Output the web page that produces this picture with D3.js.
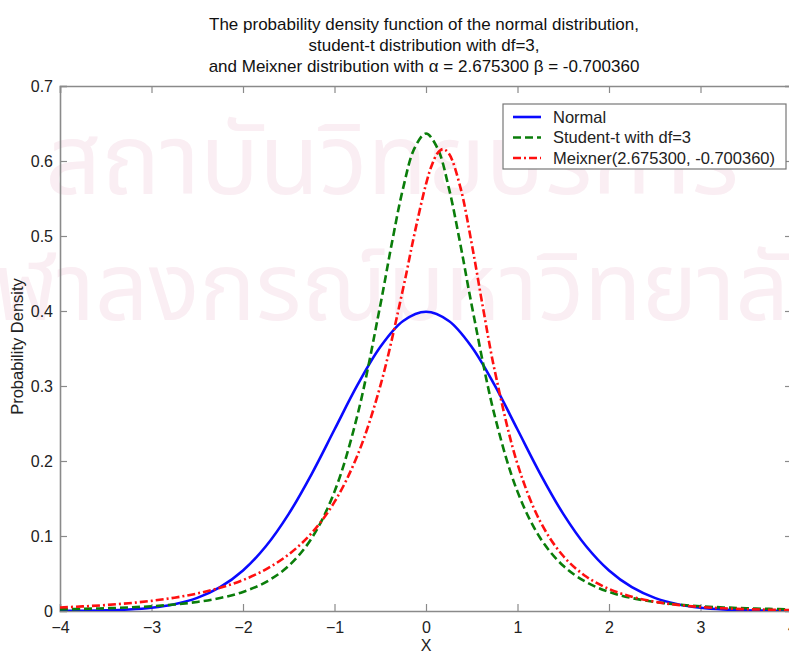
<!DOCTYPE html>
<html><head><meta charset="utf-8">
<script src="https://cdn.jsdelivr.net/npm/d3@7"></script>
<style>body{margin:0;background:#fff}svg{display:block}</style>
</head><body>
<svg id="chart" width="789" height="653"></svg>
<script>
// ---- data ----
const titleLines = [
  "The probability density function of the normal distribution,",
  "student-t distribution with df=3,",
  "and Meixner distribution with \u03b1 = 2.675300 \u03b2 = -0.700360"
];
const xLabel = "X";
const yLabel = "Probability Density";
const xTicks = [-4, -3, -2, -1, 0, 1, 2, 3, 4];
const yTicks = [0, 0.1, 0.2, 0.3, 0.4, 0.5, 0.6, 0.7];
const yTickLabels = ["0", "0.1", "0.2", "0.3", "0.4", "0.5", "0.6", "0.7"];
const seriesNames = ["Normal", "Student-t with df=3", "Meixner(2.675300, -0.700360)"];
const watermarkLines = ["สถาบันวิทยบริการ", "จุฬาลงกรณ์มหาวิทยาลัย"];

const normalX = [-4,-3.75,-3.5,-3.25,-3,-2.75,-2.5,-2.25,-2,-1.75,-1.5,-1.25,-1,-0.75,-0.5,-0.25,0,
                 0.25,0.5,0.75,1,1.25,1.5,1.75,2,2.25,2.5,2.75,3,3.25,3.5,3.75,4];
const normalY = [0.00013,0.00035,0.00087,0.00203,0.00443,0.00909,0.01753,0.03174,0.05399,0.08628,0.12952,0.18265,0.24197,0.30114,0.35207,0.38667,0.39894,
                 0.38667,0.35207,0.30114,0.24197,0.18265,0.12952,0.08628,0.05399,0.03174,0.01753,0.00909,0.00443,0.00203,0.00087,0.00035,0.00013];

const studentX = [-4,-3.75,-3.5,-3.25,-3,-2.75,-2.5,-2.25,-2,-1.75,-1.5,-1.25,-1,-0.75,-0.5,-0.375,-0.25,-0.125,0,
                  0.125,0.25,0.375,0.5,0.75,1,1.25,1.5,1.75,2,2.25,2.5,2.75,3,3.25,3.5,3.75,4];
const studentY = [0.00220,0.00281,0.00363,0.00476,0.00637,0.00868,0.01211,0.01732,0.02546,0.03857,0.06027,0.09695,0.15915,0.26076,0.40744,0.48930,0.56390,0.61720,0.63662,
                  0.61720,0.56390,0.48930,0.40744,0.26076,0.15915,0.09695,0.06027,0.03857,0.02546,0.01732,0.01211,0.00868,0.00637,0.00476,0.00363,0.00281,0.00220];

const meixnerX = [-4,-3.75,-3.5,-3.25,-3,-2.75,-2.5,-2.25,-2,-1.75,-1.5,-1.25,-1,-0.75,-0.5,-0.25,-0.125,0,
                  0.0625,0.125,0.1875,0.25,0.375,0.5,0.625,0.75,1,1.25,1.5,1.75,2,2.25,2.5,2.75,3,3.25,3.5,3.75,4];
const meixnerY = [0.00471,0.00611,0.00794,0.01035,0.01353,0.01775,0.02338,0.03098,0.04130,0.05553,0.07545,0.10389,0.14541,0.20729,0.29984,0.42999,0.50338,0.56925,
                  0.59403,0.61020,0.61590,0.61000,0.56527,0.48946,0.40285,0.32115,0.19602,0.11896,0.07331,0.04601,0.02935,0.01897,0.01239,0.00815,0.00540,0.00360,0.00241,0.00162,0.00109];

// ---- drawing ----
const svg = d3.select("#chart");
const W = 789, H = 653;
const plot = {left: 60, right: 792, top: 86, bottom: 611};
const font = "'Liberation Sans', Arial, sans-serif";

svg.append("rect").attr("width", W).attr("height", H).attr("fill", "#fff");

// faint watermark (scanned background)
const wm = svg.append("g").attr("fill", "#faeef3")
  .attr("font-family", "'Noto Sans Thai','Noto Sans','DejaVu Sans',sans-serif")
  .attr("text-anchor", "middle");
wm.selectAll("text").data(watermarkLines).join("text")
  .attr("x", (d, i) => i === 0 ? 392 : W / 2)
  .attr("y", (d, i) => 194 + i * 126)
  .attr("font-size", (d, i) => i === 0 ? 98 : 94)
  .text(d => d);

const x = d3.scaleLinear().domain([-4, 4]).range([plot.left, plot.right]);
const y = d3.scaleLinear().domain([0, 0.7]).range([plot.bottom, plot.top]);

const axisColor = "#8a8a8a";
const tickLen = 7;

svg.append("defs").append("clipPath").attr("id", "clip")
  .append("rect").attr("x", plot.left).attr("y", plot.top)
  .attr("width", plot.right - plot.left).attr("height", plot.bottom - plot.top);

// axes with inward ticks
const gBottom = svg.append("g").attr("transform", `translate(0,${plot.bottom})`)
  .call(d3.axisBottom(x).tickValues(xTicks).tickSize(-tickLen).tickPadding(11).tickFormat(d3.format("d")));
const gTop = svg.append("g").attr("transform", `translate(0,${plot.top})`)
  .call(d3.axisTop(x).tickValues(xTicks).tickSize(-tickLen).tickFormat(""));
const gLeft = svg.append("g").attr("transform", `translate(${plot.left},0)`)
  .call(d3.axisLeft(y).tickValues(yTicks).tickSize(-tickLen).tickPadding(7).tickFormat((d, i) => yTickLabels[i]));
const gRight = svg.append("g").attr("transform", `translate(${plot.right},0)`)
  .call(d3.axisRight(y).tickValues(yTicks).tickSize(-tickLen).tickFormat(""));

[gBottom, gTop, gLeft, gRight].forEach(g => {
  g.select(".domain").attr("stroke", axisColor).attr("stroke-width", 1.6);
  g.selectAll(".tick line").attr("stroke", axisColor).attr("stroke-width", 1.2);
  g.selectAll(".tick text").attr("fill", "#222").attr("font-family", font).attr("font-size", 16);
});
gBottom.selectAll(".tick text").attr("dy", "0.71em");
gLeft.selectAll(".tick text").attr("dy", "0.35em");

// curves
const line = d3.line().x(d => x(d[0])).y(d => y(d[1])).curve(d3.curveCatmullRom.alpha(0.5));
const series = [
  {name: seriesNames[0], xs: normalX, ys: normalY, color: "#0a0aff", dash: null},
  {name: seriesNames[1], xs: studentX, ys: studentY, color: "#0a7d0a", dash: "8,4"},
  {name: seriesNames[2], xs: meixnerX, ys: meixnerY, color: "#ff1010", dash: "8,3,2,3"}
];
const gCurves = svg.append("g").attr("clip-path", "url(#clip)");
series.forEach(s => {
  gCurves.append("path")
    .datum(s.xs.map((v, i) => [v, s.ys[i]]))
    .attr("d", line).attr("fill", "none")
    .attr("stroke", s.color).attr("stroke-width", 2.6)
    .attr("stroke-dasharray", s.dash);
});

// title
svg.append("g").selectAll("text").data(titleLines).join("text")
  .attr("x", 424).attr("y", (d, i) => 30 + i * 21)
  .attr("text-anchor", "middle").attr("font-family", font).attr("font-size", 17).attr("fill", "#111")
  .text(d => d);

// axis labels
svg.append("text").attr("x", x(0)).attr("y", 651).attr("text-anchor", "middle")
  .attr("font-family", font).attr("font-size", 16).attr("fill", "#222").text(xLabel);
svg.append("text").attr("transform", `translate(23,${(plot.top + plot.bottom) / 2 - 2}) rotate(-90)`)
  .attr("text-anchor", "middle").attr("font-family", font).attr("font-size", 16.5).attr("fill", "#222").text(yLabel);

// legend
const lg = svg.append("g");
lg.append("rect").attr("x", 503).attr("y", 104).attr("width", 283).attr("height", 65)
  .attr("fill", "#fff").attr("stroke", "#777").attr("stroke-width", 1.2);
series.forEach((s, i) => {
  const cy = 117 + i * 20.5;
  lg.append("line").attr("x1", 513).attr("x2", 541).attr("y1", cy).attr("y2", cy)
    .attr("stroke", s.color).attr("stroke-width", 2.6).attr("stroke-dasharray", s.dash);
  lg.append("text").attr("x", 553).attr("y", cy).attr("dy", "0.35em")
    .attr("font-family", font).attr("font-size", 16.5).attr("fill", "#222").text(s.name);
});
</script>
</body></html>
